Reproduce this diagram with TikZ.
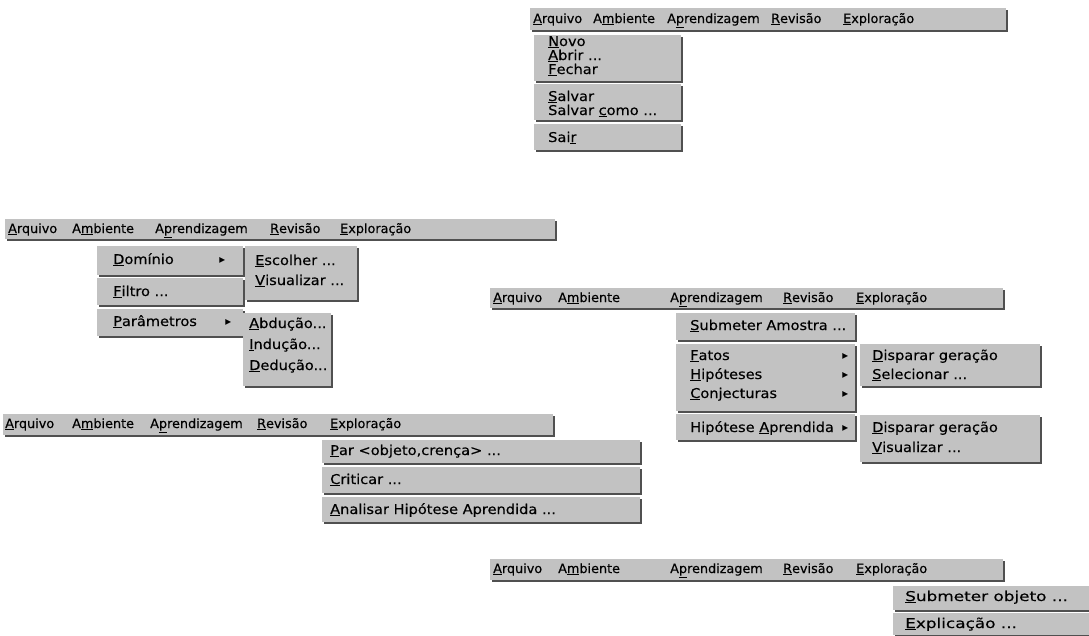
\documentclass[tikz,border=0pt]{standalone}
\usepackage{fontspec}
\setmainfont[FakeBold=0.25]{DejaVu Sans}
\newfontfamily\itemfont[FakeStretch=1.08, FakeBold=0.25]{DejaVu Sans}
\newfontfamily\wideitemfont[FakeStretch=1.25, FakeBold=0.25]{DejaVu Sans}
\usetikzlibrary{fit,shadows}
\definecolor{menugray}{RGB}{194,194,194}
\definecolor{menushade}{RGB}{80,80,80}
% access-key letter
\newcommand\ak[1]{\underline{#1}}
\tikzset{
  panel/.style={fill=menugray, draw=none, inner sep=0pt,
    drop shadow={shadow xshift=1.5pt, shadow yshift=-1.5pt, fill=menushade, opacity=1}},
  lbl/.style={anchor=base west, inner sep=0pt, font=\fontsize{12.8}{15}\selectfont},
  itm/.style={anchor=base west, inner sep=0pt, font=\itemfont\fontsize{13.5}{15}\selectfont},
  wideitm/.style={anchor=base west, inner sep=0pt, font=\wideitemfont\fontsize{13.5}{15}\selectfont},
  subarrow/.style={anchor=center, inner sep=0pt, font=\fontsize{11}{11}\selectfont},
}
\begin{document}
\begin{tikzpicture}[x=1pt, y=-1pt]
\useasboundingbox (0,0) rectangle (1089,635);

% ---------- menu bar 1 with the Arquivo menu ----------
\node[panel, fit={(530,8) (1006,30)}] (b1) {};
\node[lbl] (b1t1) at (533,23) {\ak{A}rquivo};
\node[lbl] (b1t2) at (593,23) {A\ak{m}biente};
\node[lbl] (b1t3) at (667,23) {A\ak{p}rendizagem};
\node[lbl] (b1t4) at (771,23) {\ak{R}evisão};
\node[lbl] (b1t5) at (843,23) {\ak{E}xploração};

\node[panel, fit={(534,35) (681,81)}] (d1a) {};
\node[panel, fit={(534,84) (681,120)}] (d1b) {};
\node[panel, fit={(534,124) (681,150)}] (d1c) {};
\node[itm] (d1t1) at (548,46) {\ak{N}ovo};
\node[itm] (d1t2) at (548,60) {\ak{A}brir ...};
\node[itm] (d1t3) at (548,74) {\ak{F}echar};
\node[itm] (d1t4) at (548,101) {\ak{S}alvar};
\node[itm] (d1t5) at (548,115) {Salvar \ak{c}omo ...};
\node[itm] (d1t6) at (548,142) {Sai\ak{r}};

% ---------- menu bar 2 with the Ambiente menu ----------
\node[panel, fit={(5,219) (555,239)}] (b2) {};
\node[lbl] (b2t1) at (8,233) {\ak{A}rquivo};
\node[lbl] (b2t2) at (72,233) {A\ak{m}biente};
\node[lbl] (b2t3) at (155,233) {A\ak{p}rendizagem};
\node[lbl] (b2t4) at (270,233) {\ak{R}evisão};
\node[lbl] (b2t5) at (340,233) {\ak{E}xploração};

\node[panel, fit={(97,246) (243,275)}] (d2a) {};
\node[panel, fit={(97,278) (243,305)}] (d2b) {};
\node[panel, fit={(97,309) (243,336)}] (d2c) {};
\node[panel, fit={(245,246) (357,300)}] (d2d) {};
\node[panel, fit={(243,313) (331,386)}] (d2e) {};
\node[itm] (d2t1) at (113,264) {\ak{D}omínio};
\node[subarrow] (d2r1) at (222,260) {▸};
\node[itm] (d2t2) at (113,296) {\ak{F}iltro ...};
\node[itm] (d2t3) at (113,326) {\ak{P}arâmetros};
\node[subarrow] (d2r3) at (228,322) {▸};
\node[itm] (d2t4) at (255,265) {\ak{E}scolher ...};
\node[itm] (d2t5) at (255,285) {\ak{V}isualizar ...};
\node[itm] (d2t6) at (249,328) {\ak{A}bdução...};
\node[itm] (d2t7) at (249,349) {\ak{I}ndução...};
\node[itm] (d2t8) at (249,370) {\ak{D}edução...};

% ---------- menu bar 3 with the Revisão menu ----------
\node[panel, fit={(3,414) (553,435)}] (b3) {};
\node[lbl] (b3t1) at (5,428) {\ak{A}rquivo};
\node[lbl] (b3t2) at (72,428) {A\ak{m}biente};
\node[lbl] (b3t3) at (150,428) {A\ak{p}rendizagem};
\node[lbl] (b3t4) at (257,428) {\ak{R}evisão};
\node[lbl] (b3t5) at (330,428) {\ak{E}xploração};

\node[panel, fit={(322,440) (640,463)}] (d3a) {};
\node[panel, fit={(322,467) (640,493)}] (d3b) {};
\node[panel, fit={(322,497) (640,522)}] (d3c) {};
\node[itm] (d3t1) at (330,455) {\ak{P}ar <objeto,crença> ...};
\node[itm] (d3t2) at (330,484) {\ak{C}riticar ...};
\node[itm] (d3t3) at (330,514) {\ak{A}nalisar Hipótese Aprendida ...};

% ---------- menu bar 4 with the Aprendizagem menu ----------
\node[panel, fit={(490,288) (1003,308)}] (b4) {};
\node[lbl] (b4t1) at (493,302) {\ak{A}rquivo};
\node[lbl] (b4t2) at (558,302) {A\ak{m}biente};
\node[lbl] (b4t3) at (670,302) {A\ak{p}rendizagem};
\node[lbl] (b4t4) at (783,302) {\ak{R}evisão};
\node[lbl] (b4t5) at (856,302) {\ak{E}xploração};

\node[panel, fit={(676,313) (855,340)}] (d4a) {};
\node[panel, fit={(676,344) (855,411)}] (d4b) {};
\node[panel, fit={(676,414) (855,440)}] (d4c) {};
\node[panel, fit={(860,344) (1040,386)}] (d4d) {};
\node[panel, fit={(860,415) (1040,462)}] (d4e) {};
\node[itm] (d4t1) at (690,330) {\ak{S}ubmeter Amostra ...};
\node[itm] (d4t2) at (690,360) {\ak{F}atos};
\node[itm] (d4t3) at (690,379) {\ak{H}ipóteses};
\node[itm] (d4t4) at (690,398) {\ak{C}onjecturas};
\node[itm] (d4t5) at (690,432) {Hipótese \ak{A}prendida};
\node[subarrow] (d4r2) at (845,356) {▸};
\node[subarrow] (d4r3) at (845,375) {▸};
\node[subarrow] (d4r4) at (845,394) {▸};
\node[subarrow] (d4r5) at (845,428) {▸};
\node[itm] (d4t6) at (872,360) {\ak{D}isparar geração};
\node[itm] (d4t7) at (872,379) {\ak{S}elecionar ...};
\node[itm] (d4t8) at (872,432) {\ak{D}isparar geração};
\node[itm] (d4t9) at (872,452) {\ak{V}isualizar ...};

% ---------- menu bar 5 with the Exploração menu ----------
\node[panel, fit={(490,559) (1003,580)}] (b5) {};
\node[lbl] (b5t1) at (493,573) {\ak{A}rquivo};
\node[lbl] (b5t2) at (558,573) {A\ak{m}biente};
\node[lbl] (b5t3) at (670,573) {A\ak{p}rendizagem};
\node[lbl] (b5t4) at (783,573) {\ak{R}evisão};
\node[lbl] (b5t5) at (856,573) {\ak{E}xploração};

\node[panel, fit={(893,586) (1089,610)}] (d5a) {};
\node[panel, fit={(893,613) (1089,635)}] (d5b) {};
\node[wideitm] (d5t1) at (905,601) {\ak{S}ubmeter objeto ...};
\node[wideitm] (d5t2) at (905,628) {\ak{E}xplicação ...};
\end{tikzpicture}
\end{document}
